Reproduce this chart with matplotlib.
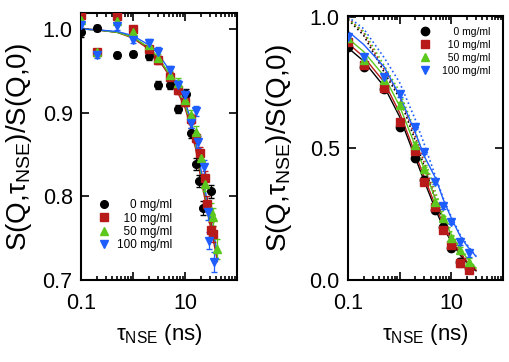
import matplotlib
matplotlib.use("Agg")
import matplotlib.pyplot as plt

plt.rcParams['font.family'] = ['Liberation Sans', 'DejaVu Sans']
plt.rcParams['mathtext.fontset'] = 'custom'
plt.rcParams['mathtext.rm'] = 'Liberation Sans'
plt.rcParams['mathtext.it'] = 'Liberation Sans:italic'
plt.rcParams['mathtext.bf'] = 'Liberation Sans:bold'

# two spaces are one digit wide in Liberation Sans -> right aligned labels
LABELS = ["    0 mg/ml", "  10 mg/ml", "  50 mg/ml", "100 mg/ml"]
COLOURS = ["black", "#b81a1a", "#5cc81e", "#1e5eff"]
MARKERS = ["o", "s", "^", "v"]

# ---- left panel: data ----
tau_l_0 = [0.1, 0.2, 0.5, 1.0, 2.0, 3.0, 5.1, 7.3, 10.3, 12.8, 16.5, 19.0, 22.5, 31.0]
s_l_0 = [0.996, 1.001, 0.969, 0.970, 0.968, 0.933, 0.933, 0.904, 0.922, 0.876, 0.839, 0.818, 0.786, 0.806]
e_l_0 = [0.005, 0.004, 0.004, 0.004, 0.005, 0.005, 0.005, 0.005, 0.006, 0.006, 0.007, 0.007, 0.008, 0.008]

tau_l_10 = [0.1, 0.2, 0.5, 1.0, 2.0, 3.0, 5.1, 7.3, 10.2, 12.8, 16.5, 19.5, 24.0, 26.5, 31.5, 35.0]
s_l_10 = [1.017, 0.972, 1.015, 1.000, 0.976, 0.963, 0.943, 0.927, 0.913, 0.892, 0.870, 0.852, 0.822, 0.791, 0.760, 0.755]
e_l_10 = [0.004, 0.004, 0.004, 0.004, 0.004, 0.005, 0.005, 0.005, 0.005, 0.006, 0.006, 0.007, 0.008, 0.009, 0.009, 0.010]

tau_l_50 = [0.1, 0.2, 0.5, 1.0, 2.0, 3.0, 5.1, 7.3, 10.2, 12.8, 16.5, 20.0, 24.0, 31.5, 35.0, 41.0]
s_l_50 = [1.011, 0.972, 1.010, 0.996, 0.981, 0.965, 0.945, 0.935, 0.915, 0.897, 0.877, 0.846, 0.815, 0.782, 0.775, 0.737]
e_l_50 = [0.004, 0.004, 0.004, 0.004, 0.005, 0.005, 0.005, 0.006, 0.006, 0.006, 0.007, 0.008, 0.009, 0.010, 0.011, 0.012]

tau_l_100 = [0.1, 0.2, 0.5, 1.0, 2.0, 3.0, 5.1, 7.3, 10.2, 12.8, 16.3, 17.5, 23.5, 27.5, 29.5, 36.0]
s_l_100 = [1.005, 0.969, 1.003, 0.987, 0.983, 0.973, 0.951, 0.933, 0.921, 0.888, 0.902, 0.865, 0.835, 0.781, 0.747, 0.722]
e_l_100 = [0.004, 0.004, 0.004, 0.004, 0.005, 0.005, 0.005, 0.006, 0.006, 0.006, 0.006, 0.007, 0.008, 0.009, 0.010, 0.012]

# fitted curves, left panel
fit_tau_l = [0.1, 0.2, 0.5, 1, 2, 3, 5, 7, 10, 13, 16, 20, 25, 30, 35, 42]
fit_l_0 = [1.000, 0.999, 0.996, 0.990, 0.977, 0.966, 0.945, 0.928, 0.908, 0.884, 0.860, 0.826, 0.797, 0.772, 0.753, 0.727]
fit_l_10 = [1.000, 0.999, 0.996, 0.989, 0.976, 0.965, 0.944, 0.926, 0.906, 0.882, 0.857, 0.823, 0.792, 0.767, 0.748, 0.722]
fit_l_50 = [1.000, 0.999, 0.996, 0.990, 0.978, 0.967, 0.946, 0.929, 0.909, 0.886, 0.862, 0.829, 0.799, 0.775, 0.755, 0.730]
fit_l_100 = [1.000, 0.999, 0.997, 0.992, 0.981, 0.971, 0.951, 0.934, 0.914, 0.891, 0.867, 0.834, 0.804, 0.779, 0.758, 0.732]

# ---- right panel: data ----
tau_r = [0.1, 0.2, 0.5, 1.0, 2.0, 3.0, 4.8, 6.8, 10.0, 15.0, 22.0]
s_r_0 = [0.886, 0.810, 0.725, 0.582, 0.465, 0.380, 0.266, 0.203, 0.120, 0.070, 0.044]
s_r_10 = [0.905, 0.815, 0.730, 0.599, 0.490, 0.373, 0.278, 0.190, 0.133, 0.063, 0.038]
s_r_50 = [0.918, 0.835, 0.760, 0.665, 0.513, 0.420, 0.297, 0.234, 0.158, 0.114, 0.070]
s_r_100 = [0.925, 0.848, 0.772, 0.706, 0.582, 0.487, 0.373, 0.281, 0.221, 0.145, 0.101]
e_r = [0.010, 0.010, 0.010, 0.010, 0.010, 0.010, 0.010, 0.010, 0.010, 0.012, 0.012]

fit_tau_r = [0.1, 0.2, 0.5, 1, 2, 3, 5, 7, 10, 15, 20, 30]
fit_r_0 = [0.882, 0.832, 0.735, 0.620, 0.465, 0.375, 0.265, 0.200, 0.145, 0.093, 0.067, 0.035]
fit_r_10 = [0.899, 0.848, 0.752, 0.635, 0.480, 0.390, 0.278, 0.212, 0.153, 0.099, 0.071, 0.038]
fit_r_50 = [0.918, 0.868, 0.775, 0.660, 0.510, 0.420, 0.303, 0.237, 0.173, 0.114, 0.084, 0.045]
fit_r_100 = [0.945, 0.895, 0.810, 0.700, 0.560, 0.470, 0.385, 0.305, 0.235, 0.165, 0.130, 0.090]

dot_r_0 = [0.990, 0.930, 0.790, 0.690, 0.530, 0.430, 0.300, 0.225, 0.160, 0.100, 0.070, 0.035]
dot_r_10 = [0.995, 0.940, 0.800, 0.700, 0.545, 0.445, 0.310, 0.235, 0.165, 0.105, 0.075, 0.038]
dot_r_50 = [0.990, 0.945, 0.815, 0.715, 0.565, 0.465, 0.330, 0.255, 0.185, 0.120, 0.090, 0.045]
dot_r_100 = [1.000, 0.955, 0.845, 0.750, 0.610, 0.515, 0.390, 0.310, 0.240, 0.170, 0.135, 0.090]

YLABEL = r"S(Q,$\mathrm{τ}_{\mathrm{NSE}}$)/S(Q,0)"
XLABEL = r"$\mathrm{τ}_{\mathrm{NSE}}$ (ns)"


def style_axis(axis, yticks, ylabelpad):
    axis.set_xscale("log")
    axis.set_xlim(0.1, 100)
    axis.set_xticks([0.1, 1, 10, 100])
    axis.set_xticklabels(["0.1", "", "10", ""])
    axis.set_yticks(yticks)
    axis.tick_params(which="both", direction="in", top=True, right=True, width=1.2)
    axis.tick_params(which="major", length=6, labelsize=15.5)
    axis.tick_params(axis="x", which="major", pad=9)
    axis.tick_params(axis="y", which="major", pad=6)
    axis.tick_params(which="minor", length=3)
    for spine in axis.spines.values():
        spine.set_linewidth(1.5)
    axis.set_ylabel(YLABEL, fontsize=20, labelpad=ylabelpad)
    axis.set_xlabel(XLABEL, fontsize=16, labelpad=6)


fig = plt.figure(figsize=(5.1, 3.62), dpi=100)
ax1 = fig.add_axes([0.1588, 0.2265, 0.3059, 0.7376])
ax2 = fig.add_axes([0.6824, 0.2265, 0.3039, 0.7293])

# left panel
left_sets = [(tau_l_0, s_l_0, e_l_0, fit_l_0), (tau_l_10, s_l_10, e_l_10, fit_l_10),
             (tau_l_50, s_l_50, e_l_50, fit_l_50), (tau_l_100, s_l_100, e_l_100, fit_l_100)]
for i, (tau, s, e, fit) in enumerate(left_sets):
    ax1.plot(fit_tau_l, fit, color=COLOURS[i], lw=1.0, zorder=2)
for i, (tau, s, e, fit) in enumerate(left_sets):
    ax1.errorbar(tau, s, yerr=e, fmt="none", ecolor=COLOURS[i], elinewidth=0.9, capsize=2.5, zorder=3)
    ax1.plot(tau, s, ls="none", marker=MARKERS[i], color=COLOURS[i], ms=5.5, label=LABELS[i], zorder=4)

style_axis(ax1, [0.7, 0.8, 0.9, 1.0], 6)
ax1.set_ylim(0.7, 1.0191)
ax1.set_yticklabels(["0.7", "0.8", "0.9", "1.0"])
ax1.legend(loc="upper left", bbox_to_anchor=(0.11, 0.302), frameon=False, fontsize=8.5,
           handlelength=1.0, handletextpad=0.6, labelspacing=0.1, borderpad=0,
           borderaxespad=0, numpoints=1)

# right panel
right_sets = [(s_r_0, fit_r_0, dot_r_0), (s_r_10, fit_r_10, dot_r_10),
              (s_r_50, fit_r_50, dot_r_50), (s_r_100, fit_r_100, dot_r_100)]
for i, (s, fit, dot) in enumerate(right_sets):
    ax2.plot(fit_tau_r, dot, color=COLOURS[i], lw=1.2, ls=":", zorder=2)
    ax2.plot(fit_tau_r, fit, color=COLOURS[i], lw=1.0, zorder=2)
for i, (s, fit, dot) in enumerate(right_sets):
    ax2.errorbar(tau_r, s, yerr=e_r, fmt="none", ecolor=COLOURS[i], elinewidth=0.9, capsize=2.5, zorder=3)
    ax2.plot(tau_r, s, ls="none", marker=MARKERS[i], color=COLOURS[i], ms=6.0, label=LABELS[i], zorder=4)

style_axis(ax2, [0.0, 0.5, 1.0], 11)
ax2.set_ylim(0.0, 1.003)
ax2.set_yticklabels(["0.0", "0.5", "1.0"])
ax2.legend(loc="upper left", bbox_to_anchor=(0.46, 0.96), frameon=False, fontsize=7.5,
           handlelength=1.0, handletextpad=1.2, labelspacing=0.3, borderpad=0,
           borderaxespad=0, numpoints=1)

fig.savefig("out.png", dpi=100)
